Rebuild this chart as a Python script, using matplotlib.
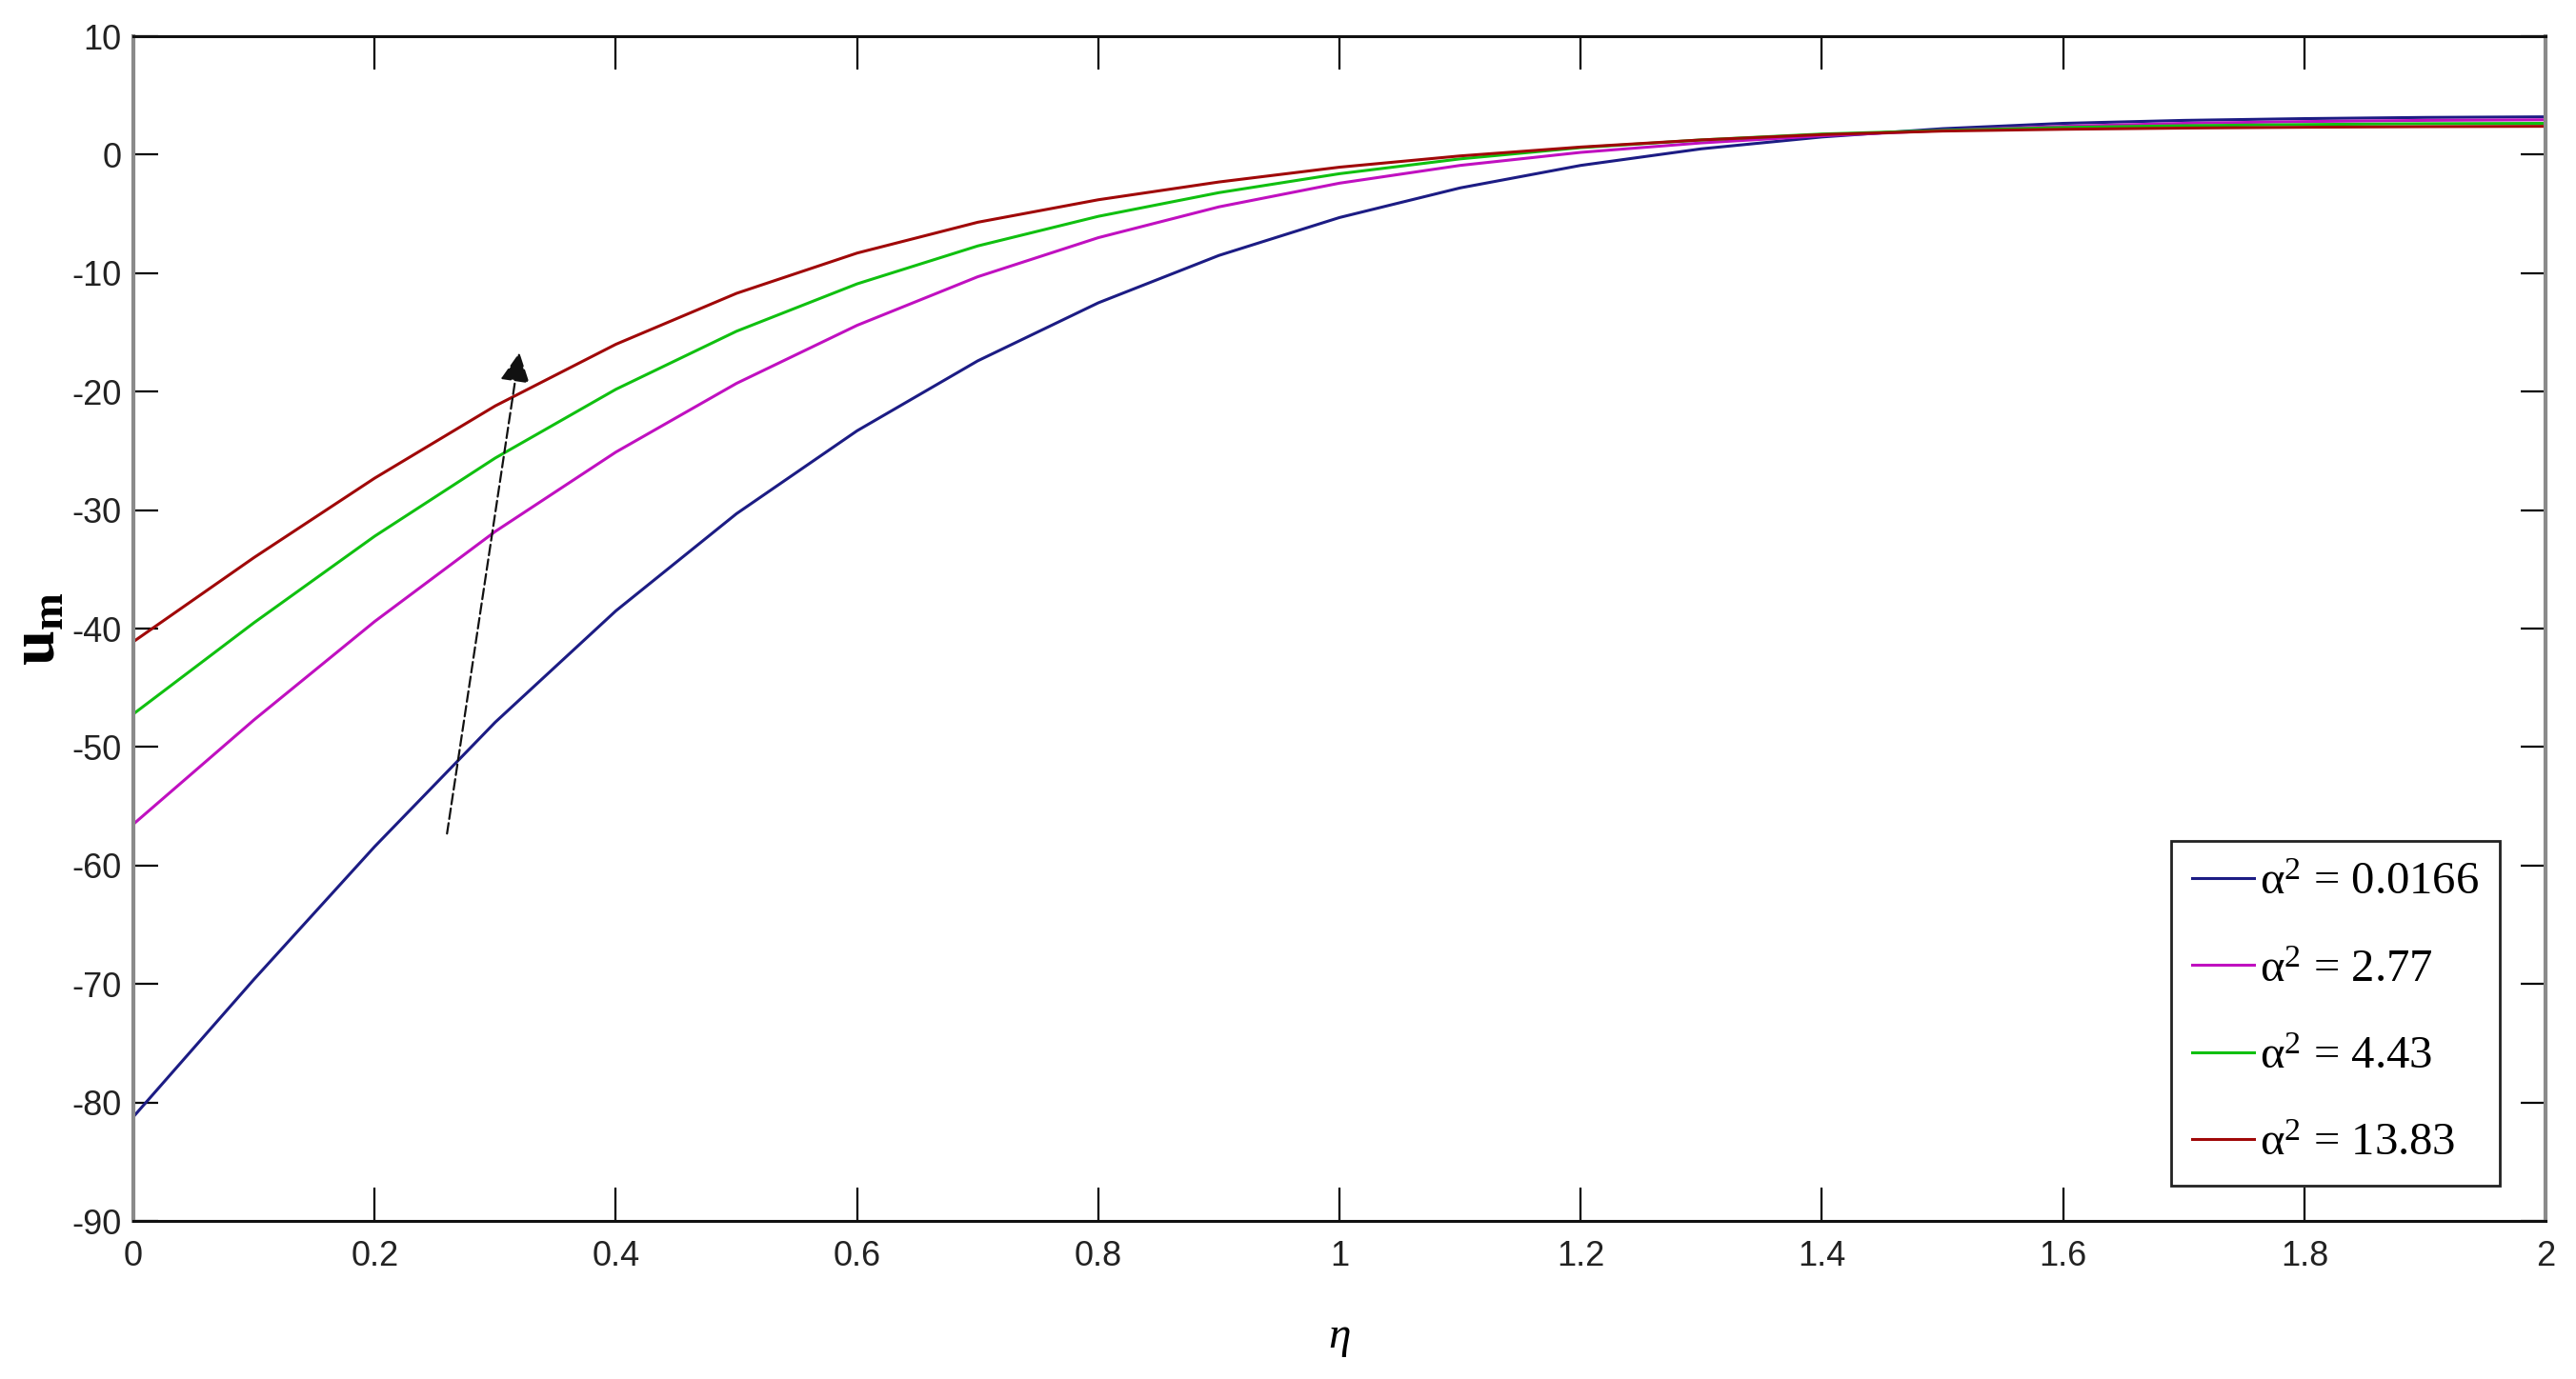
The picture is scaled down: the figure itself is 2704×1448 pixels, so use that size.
import matplotlib
matplotlib.use("Agg")
import matplotlib.pyplot as plt
from matplotlib.ticker import FormatStrFormatter

plt.rcParams['mathtext.fontset'] = 'custom'
plt.rcParams['mathtext.rm'] = 'Liberation Serif'
plt.rcParams['mathtext.it'] = 'Liberation Serif:italic'
plt.rcParams['mathtext.bf'] = 'Liberation Serif:bold'
plt.rcParams['axes.unicode_minus'] = False

# eta values and velocity profiles
eta = [0.0, 0.1, 0.2, 0.3, 0.4, 0.5, 0.6, 0.7, 0.8, 0.9, 1.0,
       1.1, 1.2, 1.3, 1.4, 1.5, 1.6, 1.7, 1.8, 1.9, 2.0]
u_a1 = [-81.2, -69.6, -58.4, -47.9, -38.5, -30.3, -23.3, -17.4, -12.5, -8.5, -5.3,
        -2.8, -0.9, 0.5, 1.5, 2.2, 2.65, 2.9, 3.05, 3.15, 3.2]
u_a2 = [-56.5, -47.7, -39.4, -31.8, -25.1, -19.3, -14.4, -10.3, -7.0, -4.4, -2.4,
        -0.9, 0.2, 1.0, 1.6, 2.05, 2.4, 2.65, 2.8, 2.9, 2.95]
u_a3 = [-47.2, -39.5, -32.2, -25.6, -19.8, -14.9, -10.9, -7.7, -5.2, -3.2, -1.6,
        -0.35, 0.6, 1.25, 1.75, 2.05, 2.3, 2.45, 2.55, 2.62, 2.65]
u_a4 = [-41.1, -34.0, -27.3, -21.2, -16.0, -11.7, -8.3, -5.7, -3.8, -2.3, -1.05,
        -0.1, 0.65, 1.25, 1.7, 2.0, 2.15, 2.25, 2.32, 2.37, 2.4]
labels = ['α$^{2}$ = 0.0166', 'α$^{2}$ = 2.77', 'α$^{2}$ = 4.43', 'α$^{2}$ = 13.83']
colors = ['#1c1c84', '#c010c0', '#10c010', '#a00808']

# arrow showing increasing alpha^2
arrow_tail = (0.26, -57.3)
arrow_head = (0.32, -16.7)

fig = plt.figure(figsize=(27.04, 14.48), dpi=100)
ax = fig.add_axes([0.0518, 0.1146, 0.9364, 0.8591])

for u, lab, c in zip([u_a1, u_a2, u_a3, u_a4], labels, colors):
    ax.plot(eta, u, color=c, lw=2.2, label=lab, solid_joinstyle='round')

ax.annotate('', xy=arrow_head, xytext=arrow_tail,
            arrowprops=dict(arrowstyle='-|>', color='#111111', lw=1.6,
                            linestyle=(0, (5, 2)), mutation_scale=48,
                            shrinkA=0, shrinkB=0))

ax.set_xlim(0, 2)
ax.set_ylim(-90, 10)
ax.set_xticks([i * 0.2 for i in range(11)])
ax.set_yticks(range(-90, 11, 10))
ax.xaxis.set_major_formatter(FormatStrFormatter('%g'))

tick_font = ['Liberation Sans Narrow', 'Liberation Sans', 'DejaVu Sans']
for t in ax.get_xticklabels() + ax.get_yticklabels():
    t.set_family(tick_font)
    t.set_fontsize(26)
    t.set_color('#222222')

ax.tick_params(axis='x', direction='in', length=25, width=1.6, pad=14,
               top=True, bottom=True)
ax.tick_params(axis='y', direction='in', length=19, width=1.6, pad=9,
               left=True, right=True)

for side in ['left', 'right']:
    ax.spines[side].set_color('#8a8a8a')
    ax.spines[side].set_linewidth(3)
for side in ['top', 'bottom']:
    ax.spines[side].set_color('#111111')
    ax.spines[side].set_linewidth(2.2)

ax.set_ylabel(r'$\mathbf{u_m}$', fontsize=48)
ax.yaxis.set_label_coords(-0.027, 0.5)
ax.set_xlabel(r'$\eta$', fontsize=34)
ax.xaxis.set_label_coords(0.5, -0.08)

leg = ax.legend(loc='lower right', bbox_to_anchor=(0.981, 0.03),
                prop={'family': 'Liberation Serif', 'size': 35},
                handlelength=1.35, handletextpad=0.12, labelspacing=0.97,
                borderpad=0.45, borderaxespad=0, fancybox=False, framealpha=1)
leg.get_frame().set_edgecolor('#222222')
leg.get_frame().set_linewidth(2)

fig.savefig('out.png', dpi=100)
